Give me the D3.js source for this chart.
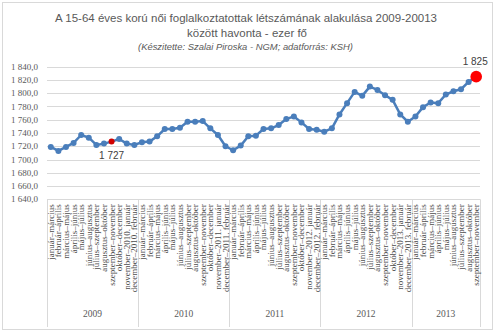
<!DOCTYPE html>
<html><head><meta charset="utf-8">
<script src="https://cdn.jsdelivr.net/npm/d3@7"></script>
<style>
html,body{margin:0;padding:0;background:#fff;}
svg{display:block;}
</style></head>
<body>
<svg id="c" width="496" height="335"></svg>
<script>
const years = ["2009", "2010", "2011", "2012", "2013"];
const periods = ["január–március", "február–április", "március–május", "április–június", "május–július", "június–augusztus", "július–szeptember", "augusztus–október", "szeptember–november", "október–december", "november–{next}. január", "december–{next}. február"];
const periodsPerYear = [12, 12, 12, 12, 9];
const values2009 = [1719, 1713, 1719, 1725, 1737, 1733, 1722, 1724, 1727, 1731, 1724, 1722];
const values2010 = [1726, 1727, 1735, 1746, 1746, 1748, 1757, 1757, 1758, 1747, 1737, 1720];
const values2011 = [1714, 1721, 1735, 1736, 1746, 1747, 1752, 1761, 1765, 1756, 1746, 1745];
const values2012 = [1742, 1747, 1768, 1785, 1802, 1796, 1810, 1805, 1797, 1790, 1768, 1757];
const values2013 = [1765, 1779, 1786, 1785, 1798, 1803, 1806, 1817, 1825];
const yTicks = [1640, 1660, 1680, 1700, 1720, 1740, 1760, 1780, 1800, 1820, 1840];
const highlightLabels = [{ index: 8, text: "1 727" }, { index: 56, text: "1 825" }];
const titleLines = ["A 15-64 éves korú női foglalkoztatottak létszámának alakulása 2009-20013", "között havonta - ezer fő"];
const subtitle = "(Készitette: Szalai Piroska - NGM; adatforrás: KSH)";

const allValues = [values2009, values2010, values2011, values2012, values2013];
const data = [];
years.forEach((y, yi) => {
  for (let k = 0; k < periodsPerYear[yi]; k++) {
    const lab = periods[k].replace("{next}", String(+y + 1));
    data.push({ i: data.length, year: y, label: lab, value: allValues[yi][k] });
  }
});

const svg = d3.select("#c");
const L = 47, R = 480, T = 66.7, B = 199.3;

svg.append("rect").attr("x", 2.5).attr("y", 2.5).attr("width", 490).attr("height", 327)
  .attr("fill", "#fff").attr("stroke", "#d9d9d9").attr("stroke-width", 1);

const x = d3.scaleBand().domain(data.map(d => d.i)).range([L, R]).padding(0);
const y = d3.scaleLinear().domain([1640, 1840]).range([B, T]);

svg.append("g").selectAll("line").data(yTicks).join("line")
  .attr("x1", L).attr("x2", R)
  .attr("y1", d => Math.round(y(d)) + 0.5).attr("y2", d => Math.round(y(d)) + 0.5)
  .attr("stroke", "#d9d9d9").attr("stroke-width", 1);

const fmt = v => d3.format(",.1f")(v).replace(",", " ").replace(".", ",");
svg.append("g").selectAll("text").data(yTicks).join("text")
  .attr("x", 38).attr("y", d => y(d)).attr("dy", "0.35em")
  .attr("text-anchor", "end")
  .attr("font-family", "Liberation Serif, Times New Roman, serif")
  .attr("font-size", 9).attr("fill", "#595959")
  .text(fmt);

const axisBottom = 327;
let start = 0;
const bounds = [0];
periodsPerYear.forEach(n => { start += n; bounds.push(start); });
svg.append("g").selectAll("line").data(bounds).join("line")
  .attr("x1", b => Math.round(L + b * x.bandwidth()) + 0.5)
  .attr("x2", b => Math.round(L + b * x.bandwidth()) + 0.5)
  .attr("y1", B).attr("y2", axisBottom)
  .attr("stroke", "#d9d9d9").attr("stroke-width", 1);

svg.append("g").selectAll("text").data(data).join("text")
  .attr("transform", d => `translate(${x(d.i) + x.bandwidth() / 2},${B + 5}) rotate(-90)`)
  .attr("dy", "0.33em")
  .attr("text-anchor", "end")
  .attr("font-family", "Liberation Serif, Times New Roman, serif")
  .attr("font-size", 9).attr("fill", "#4d4d4d")
  .text(d => d.label);

svg.append("g").selectAll("text").data(years).join("text")
  .attr("x", (yv, i) => L + (bounds[i] + bounds[i + 1]) / 2 * x.bandwidth())
  .attr("y", 317)
  .attr("text-anchor", "middle")
  .attr("font-family", "Liberation Serif, Times New Roman, serif")
  .attr("font-size", 9.5).attr("fill", "#595959")
  .text(d => d);

const line = d3.line().x(d => x(d.i) + x.bandwidth() / 2).y(d => y(d.value));
svg.append("path").datum(data).attr("d", line)
  .attr("fill", "none").attr("stroke", "#4a7ebb").attr("stroke-width", 2.5)
  .attr("stroke-linejoin", "round");

svg.append("g").selectAll("circle").data(data).join("circle")
  .attr("cx", d => x(d.i) + x.bandwidth() / 2).attr("cy", d => y(d.value))
  .attr("r", d => d.i === 56 ? 5.8 : 3)
  .attr("fill", d => d.i === 8 ? "#d00000" : (d.i === 56 ? "#ff0000" : "#4a7ebb"));

svg.append("text")
  .attr("x", x(highlightLabels[0].index) + x.bandwidth() / 2)
  .attr("y", y(data[highlightLabels[0].index].value) + 17)
  .attr("text-anchor", "middle")
  .attr("font-family", "Liberation Sans, Arial, sans-serif")
  .attr("font-size", 10).attr("fill", "#404040")
  .text(highlightLabels[0].text);
svg.append("text")
  .attr("x", x(highlightLabels[1].index) + x.bandwidth() / 2 - 1)
  .attr("y", y(data[highlightLabels[1].index].value) - 12)
  .attr("text-anchor", "middle")
  .attr("font-family", "Liberation Sans, Arial, sans-serif")
  .attr("font-size", 10).attr("fill", "#404040")
  .text(highlightLabels[1].text);

svg.append("text").attr("x", 246).attr("y", 21.5).attr("text-anchor", "middle")
  .attr("font-family", "Liberation Sans, Arial, sans-serif").attr("font-size", 11.5).attr("fill", "#595959")
  .attr("textLength", 382).attr("lengthAdjust", "spacingAndGlyphs")
  .text(titleLines[0]);
svg.append("text").attr("x", 247).attr("y", 36.5).attr("text-anchor", "middle")
  .attr("font-family", "Liberation Sans, Arial, sans-serif").attr("font-size", 11.5).attr("fill", "#595959")
  .attr("textLength", 120).attr("lengthAdjust", "spacingAndGlyphs")
  .text(titleLines[1]);
svg.append("text").attr("x", 245.5).attr("y", 49.5).attr("text-anchor", "middle")
  .attr("font-family", "Liberation Sans, Arial, sans-serif").attr("font-size", 8.5).attr("font-style", "italic").attr("fill", "#595959")
  .attr("textLength", 215).attr("lengthAdjust", "spacingAndGlyphs")
  .text(subtitle);
</script>
</body></html>
